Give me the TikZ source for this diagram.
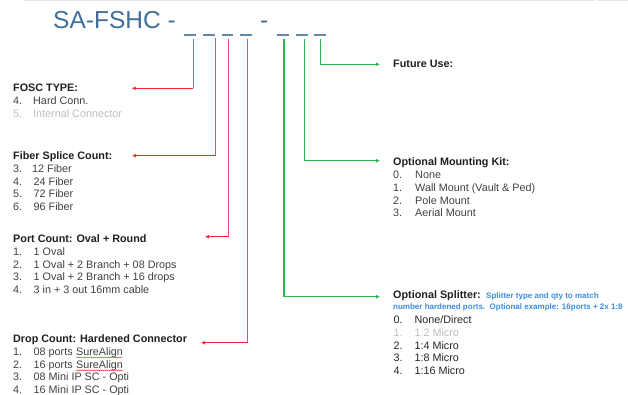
\documentclass[tikz,border=0pt]{standalone}
\usepackage{fontspec}
\setmainfont{Liberation Sans}
\usetikzlibrary{arrows.meta,decorations.pathmorphing}
\definecolor{titleblue}{HTML}{3F6E9A}
\definecolor{dashblue}{HTML}{6189AF}
\definecolor{pinkl}{HTML}{E8408A}
\definecolor{redl}{HTML}{EE2A2F}
\definecolor{greenl}{HTML}{2DB552}
\definecolor{itemgray}{HTML}{404040}
\definecolor{itemdark}{HTML}{262626}
\definecolor{lightgr}{HTML}{BDBDBD}
\definecolor{noteblue}{HTML}{3C8DDB}
\definecolor{edgeline}{HTML}{E4EAF2}
\begin{document}
\begin{tikzpicture}[x=1pt,y=-1pt,
  txt/.style={anchor=base west,inner sep=0pt,font=\fontsize{10.8}{13}\selectfont,text=itemgray},
  dtxt/.style={txt,text=itemdark},
  gtxt/.style={txt,text=lightgr},
  head/.style={anchor=base west,inner sep=0pt,font=\fontsize{10.8}{13}\selectfont\bfseries,text=black!88},
  note/.style={anchor=base west,inner sep=0pt,font=\fontsize{8}{10}\selectfont\bfseries,text=noteblue},
  ttl/.style={anchor=base west,inner sep=0pt,font=\fontsize{24.5}{28}\selectfont,text=titleblue},
  blank/.style={draw=dashblue,line width=2pt},
  pinkln/.style={draw=pinkl,line width=1.3pt},
  redarr/.style={draw=redl,line width=1.3pt,-{Latex[length=4pt,width=4pt]}},
  grnarr/.style={draw=greenl,line width=1.3pt,-{Latex[length=4pt,width=4pt]}},
  squig/.style={draw=red!80,line width=0.4pt,decorate,decoration={snake,segment length=2pt,amplitude=0.5pt}}]
\useasboundingbox (0,0) rectangle (628,395);
% faint page edge
\draw[edgeline,line width=1pt] (23,0.8) -- (595,0.8);
\draw[edgeline,line width=1pt] (597,0.8) -- (628,0.8);
% title
\node[ttl] (title) at (53,28.3) {SA-FSHC -};
\node[ttl] (dash2) at (260,28.3) {-};
% blanks
\draw[blank] (184,35) -- (196,35);
\draw[blank] (202.7,35) -- (214.7,35);
\draw[blank] (221.7,35) -- (233.3,35);
\draw[blank] (240,35) -- (251.7,35);
\draw[blank] (277.3,35) -- (289.3,35);
\draw[blank] (296,35) -- (307.7,35);
\draw[blank] (314.3,35) -- (326,35);
% connector coordinates
\coordinate (p1) at (193.3,39);  \coordinate (p1c) at (193.3,88.3);  \coordinate (p1t) at (131.7,88.3);
\coordinate (p2) at (215.7,38);  \coordinate (p2c) at (215.7,155.7); \coordinate (p2t) at (132,155.7);
\coordinate (p3) at (228.3,39);  \coordinate (p3c) at (228.3,236.7); \coordinate (p3t) at (205,236.7);
\coordinate (p4) at (247.5,39);  \coordinate (p4c) at (247.5,342.7); \coordinate (p4t) at (201,342.7);
\coordinate (g1) at (284,39);    \coordinate (g1t) at (380,296.7);
\coordinate (g2) at (304.5,39);  \coordinate (g2t) at (380,160.7);
\coordinate (g3) at (320.5,39);  \coordinate (g3t) at (380,64.3);
\draw[pinkln] (p1) -- (p1c); \draw[redarr] (p1c) -- (p1t);
\draw[pinkln] (p2) -- (p2c); \draw[redarr] (p2c) -- (p2t);
\draw[pinkln] (p3) -- (p3c); \draw[redarr] (p3c) -- (p3t);
\draw[pinkln] (p4) -- (p4c); \draw[redarr] (p4c) -- (p4t);
\draw[grnarr] (g1) |- (g1t);
\draw[grnarr] (g2) |- (g2t);
\draw[grnarr] (g3) |- (g3t);
% FOSC TYPE
\node[head] (h1) at (13,91.8) {FOSC TYPE:};
\node[txt] (h1n1) at (13,104.5) {4.}; \node[txt] (h1t1) at (33,104.5) {Hard Conn.};
\node[gtxt] (h1n2) at (13,117.3) {5.}; \node[gtxt] (h1t2) at (33,117.3) {Internal Connector};
% Fiber splice
\node[head] (h2) at (13,159.5) {Fiber Splice Count:};
\node[txt] (h2n1) at (13,172.5) {3.}; \node[txt] (h2t1) at (32,172.5) {12 Fiber};
\node[txt] (h2n2) at (13,185.3) {4.}; \node[txt] (h2t2) at (33.5,185.3) {24 Fiber};
\node[txt] (h2n3) at (13,198) {5.}; \node[txt] (h2t3) at (33.5,198) {72 Fiber};
\node[txt] (h2n4) at (13,210.8) {6.}; \node[txt] (h2t4) at (33.5,210.8) {96 Fiber};
% Port count
\node[head] (h3) at (13,242.7) {Port Count: Oval + Round};
\node[txt] (h3n1) at (13,255.3) {1.}; \node[txt] (h3t1) at (33.5,255.3) {1 Oval};
\node[txt] (h3n2) at (13,268) {2.}; \node[txt] (h3t2) at (33.5,268) {1 Oval + 2 Branch + 08 Drops};
\node[txt] (h3n3) at (13,280.7) {3.}; \node[txt] (h3t3) at (33.5,280.7) {1 Oval + 2 Branch + 16 drops};
\node[txt] (h3n4) at (13,293.4) {4.}; \node[txt] (h3t4) at (33.5,293.4) {3 in + 3 out 16mm cable};
% Drop count
\node[head] (h4) at (13,342.5) {Drop Count: Hardened Connector};
\node[txt] (h4n1) at (13,355.2) {1.}; \node[txt] (h4t1) at (33.5,355.2) {08 ports};
\node[txt] (h4s1) at ([xshift=3pt]h4t1.base east) {SureAlign};
\node[txt] (h4n2) at (13,368) {2.}; \node[txt] (h4t2) at (33.5,368) {16 ports};
\node[txt] (h4s2) at ([xshift=3pt]h4t2.base east) {SureAlign};
\node[txt] (h4n3) at (13,380.7) {3.}; \node[txt] (h4t3) at (33.5,380.7) {08 Mini IP SC - Opti};
\node[txt] (h4n4) at (13,393.4) {4.}; \node[txt] (h4t4) at (33.5,393.4) {16 Mini IP SC - Opti};
\draw[squig] ([yshift=-2.3pt]h4s1.base west) -- ([yshift=-2.3pt]h4s1.base east);
\draw[squig] ([yshift=-2.3pt]h4s2.base west) -- ([yshift=-2.3pt]h4s2.base east);
% Future use
\node[head] (h5) at (393,68) {Future Use:};
% Mounting kit
\node[head] (h6) at (393,166) {Optional Mounting Kit:};
\node[txt] (h6n1) at (393,178.7) {0.}; \node[txt] (h6t1) at (415,178.7) {None};
\node[txt] (h6n2) at (393,191.4) {1.}; \node[txt] (h6t2) at (415,191.4) {Wall Mount (Vault \& Ped)};
\node[txt] (h6n3) at (393,204.1) {2.}; \node[txt] (h6t3) at (415,204.1) {Pole Mount};
\node[txt] (h6n4) at (393,216.8) {3.}; \node[txt] (h6t4) at (415,216.8) {Aerial Mount};
% Splitter
\node[head] (h7) at (393,298.3) {Optional Splitter:};
\node[note] (h7a) at (486,298.3) {Splitter type and qty to match};
\node[note] (h7b) at (393,309.3) {number hardened ports.\ \ Optional example: 16ports + 2x 1:8};
\node[dtxt] (h7n1) at (393.3,323.3) {0.}; \node[dtxt] (h7t1) at (414.3,323.3) {None/Direct};
\node[gtxt] (h7n2) at (393.3,336) {1.}; \node[gtxt] (h7t2) at (414.3,336) {1:2 Micro};
\node[dtxt] (h7n3) at (393.3,349) {2.}; \node[dtxt] (h7t3) at (414.3,349) {1:4 Micro};
\node[dtxt] (h7n4) at (393.3,361.8) {3.}; \node[dtxt] (h7t4) at (414.3,361.8) {1:8 Micro};
\node[dtxt] (h7n5) at (393.3,374.5) {4.}; \node[dtxt] (h7t5) at (414.3,374.5) {1:16 Micro};
\end{tikzpicture}
\end{document}
